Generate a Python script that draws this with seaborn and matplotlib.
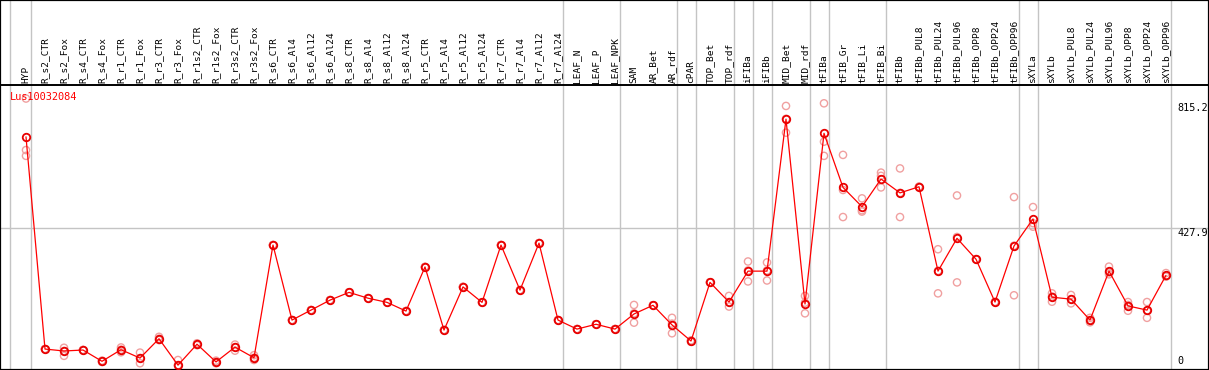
import numpy as np
import pandas as pd
import matplotlib
matplotlib.use("Agg")
import matplotlib.pyplot as plt
import seaborn as sns

# ---------------- data ----------------
samples = ["HYP", "R_s2_CTR", "R_s2_Fox", "R_s4_CTR", "R_s4_Fox", "R_r1_CTR", "R_r1_Fox",
           "R_r3_CTR", "R_r3_Fox", "R_r1s2_CTR", "R_r1s2_Fox", "R_r3s2_CTR", "R_r3s2_Fox",
           "R_s6_CTR", "R_s6_Al4", "R_s6_Al12", "R_s6_Al24", "R_s8_CTR", "R_s8_Al4", "R_s8_Al12",
           "R_s8_Al24", "R_r5_CTR", "R_r5_Al4", "R_r5_Al12", "R_r5_Al24", "R_r7_CTR", "R_r7_Al4",
           "R_r7_Al12", "R_r7_Al24", "LEAF_N", "LEAF_P", "LEAF_NPK", "SAM", "AR_Bet", "AR_rdf",
           "cPAR", "TOP_Bet", "TOP_rdf", "iFIBa", "iFIBb", "MID_Bet", "MID_rdf", "tFIBa",
           "tFIB_Gr", "tFIB_Li", "tFIB_Bi", "tFIBb", "tFIBb_PUL8", "tFIBb_PUL24", "tFIBb_PUL96",
           "tFIBb_OPP8", "tFIBb_OPP24", "tFIBb_OPP96", "sXYLa", "sXYLb", "sXYLb_PUL8",
           "sXYLb_PUL24", "sXYLb_PUL96", "sXYLb_OPP8", "sXYLb_OPP24", "sXYLb_OPP96"]

mean_values = [711, 52, 46, 49, 14, 50, 24, 84, 2, 67, 12, 58, 25,
               375, 142, 173, 204, 228, 210, 197, 170, 307, 111, 245, 197, 375, 235, 381, 142,
               114, 129, 114, 161, 188, 127, 77, 259, 198, 294, 294, 766, 192, 722,
               554, 494, 580, 537, 556, 294, 396, 331, 198, 372, 456, 213, 207,
               142, 294, 186, 173, 281]

rep_a = [830, 52, 56, 49, 16, 57, 41, 90, 18, 70, 16, 66, 33,
         375, 142, 173, 204, 228, 210, 197, 170, 307, 111, 245, 197, 375, 235, 381, 142,
         114, 129, 114, 189, 188, 149, 79, 259, 217, 324, 321, 807, 217, 815.2,
         655, 520, 600, 613, 556, 362, 529, 331, 198, 524, 493, 225, 220,
         149, 308, 198, 198, 288]
rep_b = [670, 52, 31, 49, 12, 42, 8, 80, 0, 64, 8, 47, 18,
         375, 142, 173, 204, 228, 210, 197, 170, 307, 111, 245, 197, 375, 235, 381, 142,
         114, 129, 114, 134, 188, 101, 75, 259, 184, 262, 265, 724, 163, 696,
         546, 479, 590, 462, 556, 225, 259, 331, 198, 219, 432, 199, 194,
         135, 284, 171, 149, 278]
rep_c = [652, 52, 46, 49, 14, 50, 24, 84, 2, 67, 12, 58, 25,
         375, 142, 173, 204, 228, 210, 197, 170, 307, 111, 245, 197, 375, 235, 381, 142,
         114, 129, 114, 163, 188, 131, 77, 259, 198, 296, 296, 767, 196, 652,
         462, 483, 554, 537, 556, 295, 400, 331, 198, 373, 443, 215, 207,
         142, 290, 189, 172, 277]

group_ends = ["HYP", "R_r7_Al24", "LEAF_NPK", "AR_rdf", "cPAR", "TOP_rdf", "iFIBa", "iFIBb",
              "MID_rdf", "tFIBa", "tFIB_Bi", "tFIBb_OPP96", "sXYLa", "sXYLb_OPP96"]
gene_id = "Lus10032084"
scale_labels = ["815.2", "427.9", "0"]
scale_values = [815.2, 427.9, 0.0]

# ---------------- layout ----------------
W, H, DPI = 1209, 370, 100
X0_PX, STEP_PX = 26.0, 19.0          # pixel x of first sample, spacing
Y0_PX, PX_PER_UNIT = 365.8, 0.322     # pixel y of value 0, pixels per unit
HEADER_PX = 85.0

def px_to_x(px):
    return (px - X0_PX) / STEP_PX

def py_to_val(py):
    return (Y0_PX - py) / PX_PER_UNIT

x_idx = np.arange(len(samples))
df_mean = pd.DataFrame({"x": x_idx, "value": mean_values})
df_rep = pd.DataFrame({"x": np.concatenate([x_idx] * 3),
                       "value": np.concatenate([rep_a, rep_b, rep_c])})

sns.set_theme(style="white")
plt.rcParams["font.family"] = ["DejaVu Sans Mono", "DejaVu Sans"]

fig = plt.figure(figsize=(W / DPI, H / DPI), dpi=DPI)
ax = fig.add_axes([0, 0, 1, 1])
ax.set_xlim(px_to_x(0), px_to_x(W))
ax.set_ylim(py_to_val(H), py_to_val(0))

grid_c = "#c4c4c4"
# horizontal gridline
ax.axhline(427.9, color=grid_c, lw=1.0, zorder=0)
# vertical group separators
ax.axvline(px_to_x(10.3), color=grid_c, lw=1.0, zorder=0)
for name in group_ends:
    ax.axvline(samples.index(name) + 0.25, color=grid_c, lw=1.0, zorder=0)

# header separator
ax.axhline(py_to_val(HEADER_PX), color="black", lw=1.4, zorder=3)

# replicates
sns.scatterplot(data=df_rep, x="x", y="value", ax=ax, marker="o", s=27,
                facecolors="none", edgecolor="#f0a0a0", linewidth=1.0, zorder=2,
                legend=False)
# mean line
sns.lineplot(data=df_mean, x="x", y="value", ax=ax, color="#ff0000", lw=0.9,
             marker="o", markersize=5.4, markerfacecolor="none",
             markeredgecolor="#e80000", markeredgewidth=1.3, zorder=4, legend=False)

# sample labels
label_y = py_to_val(83)
for i, name in enumerate(samples):
    ax.text(i, label_y, name, rotation=90, ha="center", va="bottom",
            fontsize=6.8, color="black", zorder=5)

# gene id
ax.text(px_to_x(10), py_to_val(97), gene_id, ha="left", va="center",
        fontsize=7.4, color="#ff0000", zorder=5)

# scale labels
sx = px_to_x(1177)
for lab, v in zip(scale_labels, scale_values):
    ax.text(sx, v, lab, ha="left", va="bottom" if v == 0 else "top",
            fontsize=7.3, color="black", zorder=5)

ax.set_xlabel("")
ax.set_ylabel("")
ax.set_xticks([])
ax.set_yticks([])
for sp in ax.spines.values():
    sp.set_visible(True)
    sp.set_color("black")
    sp.set_linewidth(1.6)

fig.savefig("out.png", dpi=DPI)
